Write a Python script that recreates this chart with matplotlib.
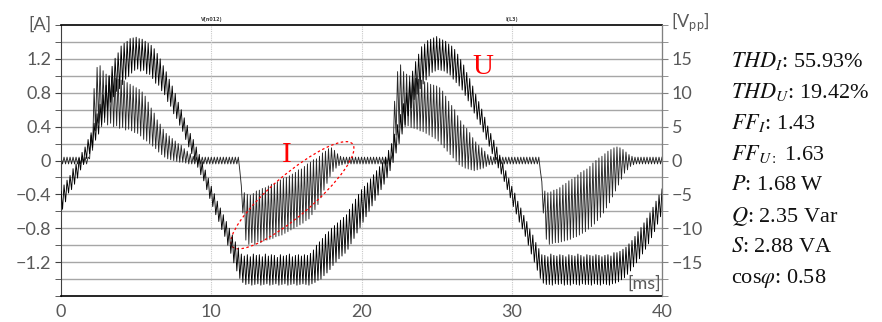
"""Oscilloscope capture: lamp current and supply voltage over two mains periods"""

# %%
import numpy as np
import matplotlib.pyplot as plt
from matplotlib.patches import Ellipse
from matplotlib.transforms import ScaledTranslation
from matplotlib.ticker import MultipleLocator, FixedLocator

plt.rcParams["mathtext.fontset"] = "stix"

# %%
# samples every 0.1 ms, one row per millisecond (0 ... 39 ms), last sample at 40 ms
# supply voltage U [V]
u_rows = [
    [-4.5, -7.2, -3.6, -6.1, -2.9, -4.8, -2.2, -4.3, -1.2, -3.5],
    [-0.5, -2.6, 0.3, -1.4, 1.2, -0.6, 2.0, 0.3, 3.1, 1.0],
    [4.1, 1.9, 5.5, 3.0, 6.9, 3.9, 8.3, 5.3, 9.7, 6.3],
    [11.1, 7.4, 12.5, 8.6, 13.9, 9.4, 15.1, 10.2, 15.9, 10.6],
    [16.9, 11.2, 17.3, 12.0, 17.6, 12.4, 18.0, 12.9, 18.1, 13.3],
    [18.2, 13.5, 18.0, 13.2, 17.9, 13.3, 17.6, 12.8, 17.3, 12.7],
    [17.0, 12.1, 16.5, 11.4, 15.8, 11.1, 15.0, 10.3, 14.0, 9.7],
    [13.1, 8.7, 12.0, 8.0, 11.0, 6.9, 9.9, 6.2, 8.6, 5.2],
    [7.5, 4.3, 6.3, 3.1, 5.2, 2.0, 4.0, 1.0, 3.1, 0.0],
    [2.0, -1.0, 0.9, -2.1, -0.2, -3.0, -1.4, -4.3, -2.6, -5.6],
    [-3.8, -6.8, -4.9, -8.0, -6.0, -9.0, -7.0, -10.2, -8.0, -11.2],
    [-9.0, -12.5, -10.0, -13.7, -11.0, -15.1, -12.0, -16.3, -12.9, -17.4],
    [-13.8, -18.0, -14.1, -18.3, -13.9, -18.2, -14.2, -18.4, -13.8, -18.3],
    [-14.0, -18.2, -13.9, -18.4, -14.2, -18.3, -13.8, -18.2, -14.1, -18.4],
    [-13.9, -18.3, -14.0, -18.2, -14.3, -18.4, -13.9, -18.3, -14.1, -18.2],
    [-14.0, -18.4, -13.8, -18.3, -14.2, -18.2, -14.0, -18.4, -13.9, -18.3],
    [-14.1, -18.2, -13.9, -18.3, -14.0, -18.4, -13.7, -18.2, -13.2, -18.0],
    [-12.5, -17.7, -12.0, -17.5, -11.5, -17.0, -10.9, -16.6, -10.5, -16.1],
    [-10.0, -15.5, -9.6, -15.0, -9.2, -14.5, -8.8, -14.1, -8.4, -13.7],
    [-8.0, -13.1, -7.2, -12.3, -6.4, -11.5, -5.7, -10.7, -5.0, -9.9],
    [-4.3, -9.1, -3.8, -8.3, -3.3, -7.5, -2.7, -6.7, -2.1, -5.9],
    [-1.5, -5.1, -0.9, -4.3, -0.3, -3.5, 0.5, -2.5, 1.5, -1.5],
    [2.5, -0.3, 3.9, 1.1, 5.3, 2.5, 6.8, 3.9, 8.4, 5.3],
    [10.0, 6.6, 11.6, 7.8, 13.2, 9.0, 14.6, 9.8, 15.7, 10.6],
    [16.8, 11.3, 17.2, 11.9, 17.7, 12.5, 17.9, 13.0, 18.1, 13.2],
    [18.3, 13.4, 18.0, 13.3, 17.8, 13.2, 17.6, 12.9, 17.2, 12.6],
    [16.9, 12.0, 16.4, 11.5, 15.7, 11.0, 14.9, 10.4, 14.1, 9.6],
    [13.0, 8.8, 12.1, 7.9, 11.0, 7.0, 9.8, 6.1, 8.7, 5.3],
    [7.6, 4.2, 6.4, 3.1, 5.1, 2.1, 4.0, 1.0, 3.0, 0.1],
    [2.0, -1.1, 0.8, -2.0, -0.3, -3.1, -1.5, -4.3, -2.6, -5.5],
    [-3.8, -6.8, -4.8, -7.9, -6.0, -9.1, -7.0, -10.1, -8.1, -11.2],
    [-9.0, -12.5, -10.1, -13.8, -11.0, -15.0, -12.1, -16.2, -13.0, -17.4],
    [-13.9, -18.1, -14.0, -18.3, -14.2, -18.3, -13.8, -18.4, -14.0, -18.2],
    [-14.1, -18.3, -13.9, -18.2, -14.0, -18.4, -14.2, -18.3, -13.9, -18.4],
    [-14.0, -18.2, -14.1, -18.3, -13.8, -18.4, -14.0, -18.2, -14.2, -18.3],
    [-13.9, -18.3, -14.0, -18.4, -14.1, -18.2, -13.9, -18.3, -14.0, -18.4],
    [-14.2, -18.2, -14.0, -18.3, -13.9, -18.4, -14.1, -18.2, -13.6, -18.1],
    [-13.6, -17.9, -13.4, -17.6, -13.1, -17.3, -12.8, -16.8, -12.3, -16.3],
    [-11.8, -15.7, -11.2, -15.1, -10.5, -14.5, -9.9, -13.8, -9.2, -13.1],
    [-8.5, -12.3, -7.7, -11.4, -6.9, -10.5, -6.0, -9.4, -5.1, -8.3],
]
u_last = -4.2

# lamp current I [A]; the idle ripple while the lamp does not conduct
i_idle = [0.04, -0.04, 0.04, -0.04, 0.04, -0.04, 0.04, -0.04, 0.04, -0.04]
i_rows = [
    i_idle,
    [0.04, -0.04, 0.04, -0.04, 0.04, -0.04, 0.04, -0.04, 0.04, 0.02],
    [0.30, 0.12, 0.85, 0.35, 1.10, 0.44, 1.12, 0.40, 1.06, 0.45],
    [1.02, 0.42, 1.00, 0.44, 0.99, 0.40, 0.97, 0.41, 0.96, 0.38],
    [0.95, 0.39, 0.94, 0.36, 0.92, 0.37, 0.90, 0.35, 0.88, 0.33],
    [0.86, 0.32, 0.84, 0.29, 0.81, 0.25, 0.76, 0.23, 0.69, 0.20],
    [0.62, 0.17, 0.56, 0.14, 0.48, 0.10, 0.43, 0.07, 0.37, 0.04],
    [0.32, 0.02, 0.29, 0.01, 0.26, 0.00, 0.23, -0.01, 0.20, -0.02],
    [0.18, -0.02, 0.14, -0.03, 0.11, -0.04, 0.08, -0.04, 0.05, -0.04],
    i_idle,
    i_idle,
    [0.04, -0.04, 0.04, -0.04, 0.04, -0.04, 0.04, -0.04, 0.04, -0.12],
    [-0.30, -0.62, -0.38, -0.94, -0.40, -0.99, -0.41, -0.97, -0.39, -0.99],
    [-0.36, -0.96, -0.35, -0.97, -0.33, -0.95, -0.32, -0.94, -0.30, -0.93],
    [-0.28, -0.92, -0.27, -0.90, -0.25, -0.89, -0.23, -0.88, -0.21, -0.86],
    [-0.20, -0.84, -0.18, -0.82, -0.16, -0.80, -0.14, -0.78, -0.11, -0.76],
    [-0.10, -0.74, -0.07, -0.71, -0.04, -0.69, -0.02, -0.64, 0.01, -0.58],
    [0.02, -0.52, 0.05, -0.44, 0.09, -0.35, 0.11, -0.27, 0.14, -0.19],
    [0.15, -0.13, 0.12, -0.09, 0.08, -0.06, 0.05, -0.05, 0.04, -0.04],
    i_idle,
    i_idle,
    i_idle,
    [0.04, 0.10, 0.70, 0.30, 1.05, 0.40, 1.13, 0.42, 1.05, 0.40],
    [1.02, 0.41, 1.00, 0.39, 0.98, 0.38, 0.97, 0.37, 0.96, 0.35],
    [0.95, 0.34, 0.93, 0.32, 0.92, 0.30, 0.90, 0.28, 0.89, 0.26],
    [0.88, 0.23, 0.86, 0.19, 0.82, 0.15, 0.76, 0.11, 0.70, 0.07],
    [0.65, 0.03, 0.60, -0.01, 0.53, -0.05, 0.47, -0.07, 0.42, -0.09],
    [0.38, -0.10, 0.33, -0.11, 0.27, -0.12, 0.22, -0.11, 0.18, -0.10],
    [0.15, -0.09, 0.11, -0.07, 0.07, -0.05, 0.05, -0.05, 0.04, -0.04],
    i_idle,
    i_idle,
    [0.04, -0.04, 0.04, -0.04, 0.04, -0.04, 0.04, -0.04, 0.04, -0.12],
    [-0.25, -0.62, -0.36, -0.93, -0.38, -0.99, -0.37, -0.98, -0.35, -0.97],
    [-0.34, -0.97, -0.32, -0.96, -0.29, -0.95, -0.27, -0.94, -0.24, -0.93],
    [-0.22, -0.91, -0.20, -0.90, -0.17, -0.88, -0.14, -0.86, -0.12, -0.84],
    [-0.10, -0.81, -0.07, -0.78, -0.03, -0.75, 0.00, -0.71, 0.03, -0.67],
    [0.05, -0.62, 0.08, -0.56, 0.11, -0.50, 0.13, -0.43, 0.15, -0.36],
    [0.16, -0.29, 0.15, -0.22, 0.13, -0.15, 0.10, -0.11, 0.07, -0.07],
    [0.05, -0.05, 0.04, -0.04, 0.04, -0.04, 0.04, -0.04, 0.04, -0.04],
    i_idle,
]
i_last = 0.04

# measured quantities
stats = [
    (r"$THD_{I}$", ": 55.93%"),
    (r"$THD_{U}$", ": 19.42%"),
    (r"$FF_{I}$", ": 1.43"),
    (r"$FF_{U:}$", " 1.63"),
    (r"$P$", ": 1.68 W"),
    (r"$Q$", ": 2.35 Var"),
    (r"$S$", ": 2.88 VA"),
    (r"cos$\varphi$", ": 0.58"),
]

x_ticks = [0, 10, 20, 30, 40]
i_ticks = [-1.2, -0.8, -0.4, 0, 0.4, 0.8, 1.2]
u_ticks = [-15, -10, -5, 0, 5, 10, 15]

# %%
u_volt = np.concatenate(u_rows + [[u_last]])
i_amp = np.concatenate(i_rows + [[i_last]])
t_ms = np.arange(u_volt.size) * 0.1

GREY = "#595959"
TICK_FONT = dict(family="Lato", size=13, color=GREY)

fig = plt.figure(figsize=(8.82, 3.22), dpi=100)
ax = fig.add_axes([0.0692, 0.0807, 0.6814, 0.8416])
ax2 = ax.twinx()

ax.set_xlim(0, 40)
ax.set_ylim(-1.6, 1.6)
ax2.set_ylim(-20, 20)

# grid: every 0.2 A horizontally, dotted at every 10 ms
for y in np.arange(-1.4, 1.41, 0.2):
    ax.axhline(y, color="#a6a6a6", lw=1.0, zorder=0)
for x in x_ticks[1:-1]:
    ax.axvline(x, color="#c8c8c8", lw=0.8, ls=(0, (1, 1)), zorder=0)

ax.plot(t_ms, i_amp, color="#262626", lw=0.65, zorder=2)
ax2.plot(t_ms, u_volt, color="black", lw=0.65, zorder=2)

ax.set_xticks(x_ticks)
ax.set_xticklabels([str(v) for v in x_ticks], **TICK_FONT)
ax.yaxis.set_major_locator(FixedLocator(i_ticks))
ax.yaxis.set_minor_locator(MultipleLocator(0.2))
ax.set_yticklabels([f"{v:g}".replace("-", "\u2212") for v in i_ticks], **TICK_FONT)
ax2.yaxis.set_major_locator(FixedLocator(u_ticks))
ax2.yaxis.set_minor_locator(MultipleLocator(2.5))
ax2.set_yticklabels([f"{v:g}".replace("-", "\u2212") for v in u_ticks], **TICK_FONT)

ax.tick_params(axis="x", length=0, pad=6)
ax.tick_params(axis="y", which="both", length=4, color="#404040", pad=3)
ax2.tick_params(axis="y", which="both", length=4, color="#808080", pad=3)

for side in ["top", "bottom"]:
    ax.spines[side].set_color("black")
    ax.spines[side].set_linewidth(1.2)
ax.spines["left"].set_color("#404040")
ax2.spines["right"].set_color("#808080")
for side in ["top", "bottom", "left"]:
    ax2.spines[side].set_visible(False)

# unit labels
fig.text(40 / 882, 1 - 25 / 322, "[A]", ha="center", va="center", **TICK_FONT)
fig.text(
    690 / 882, 1 - 22 / 322, r"[V$_{\mathregular{pp}}$]",
    ha="center", va="center", **TICK_FONT,
)
ax.text(39.9, -1.55, "[ms]", ha="right", va="bottom", zorder=5, **TICK_FONT)

# channel names from the scope export
ax.text(10, 1.63, "V(n012)", ha="center", va="bottom", fontsize=3.5,
        weight="bold", color="#444444")
ax.text(30, 1.63, "I(L3)", ha="center", va="bottom", fontsize=3.5,
        weight="bold", color="#444444")

# trace markers
ax.text(28.1, 1.10, "U", color="red", family="Liberation Serif", fontsize=21,
        ha="center", va="center", zorder=6)
ax.text(15.05, 0.06, "I", color="red", family="Liberation Serif", fontsize=21,
        ha="center", va="center", zorder=6)
ring = Ellipse(
    (0, 0), 1.58, 0.41, angle=40.5,
    transform=fig.dpi_scale_trans + ScaledTranslation(15.4, -0.41, ax.transData),
    fill=False, edgecolor="red", lw=0.9, ls=(0, (2, 2)), zorder=6,
)
ax.add_artist(ring)

# measurement summary
for k, (name, value) in enumerate(stats):
    fig.text(
        731 / 882, 1 - (61 + 31 * k) / 322, name + value,
        family="Liberation Serif", fontsize=16, color="#111111",
        ha="left", va="center",
    )

plt.savefig("out.png", dpi=100)
